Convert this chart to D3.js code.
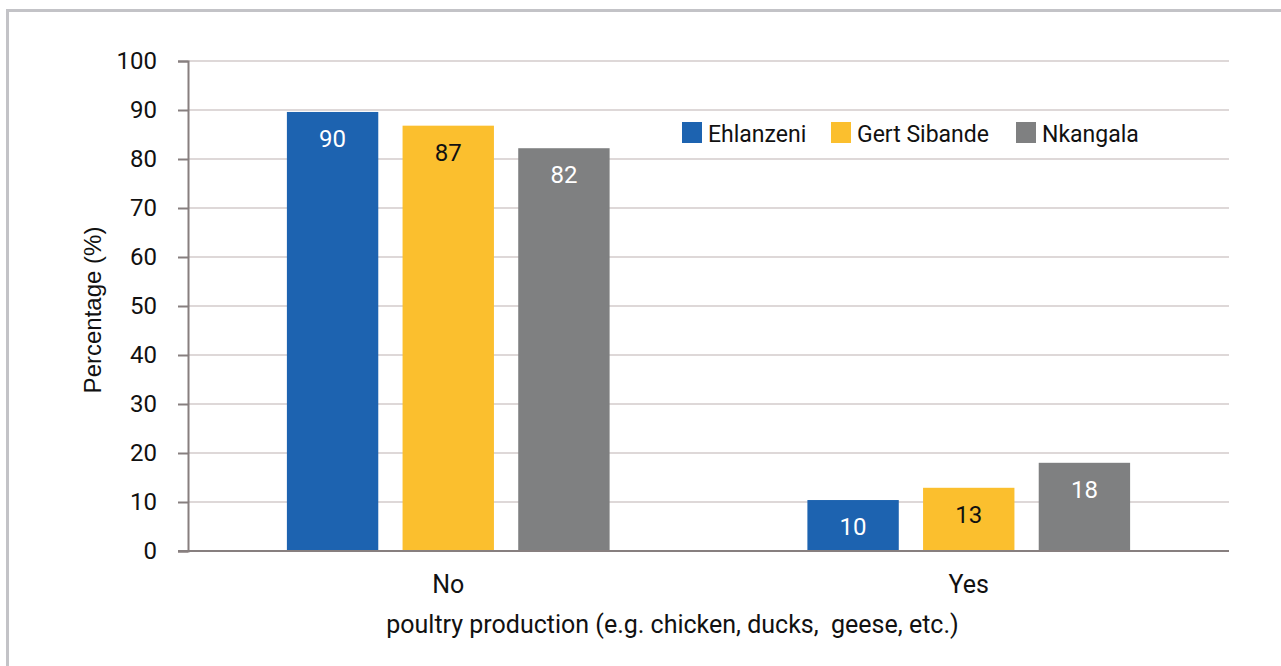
<!DOCTYPE html>
<html>
<head>
<meta charset="utf-8">
<script src="https://cdn.jsdelivr.net/npm/d3@7"></script>
<style>
  html, body { margin: 0; padding: 0; background: #fff; }
  svg { display: block; font-family: Roboto, "Noto Sans", sans-serif; }
</style>
</head>
<body>
<div id="chart"></div>
<script>
var categories = ["No", "Yes"];
var seriesNames = ["Ehlanzeni", "Gert Sibande", "Nkangala"];
var ehlanzeni = [89.6, 10.4];
var gertSibande = [86.8, 12.9];
var nkangala = [82.2, 18.0];
var yTicks = [0, 10, 20, 30, 40, 50, 60, 70, 80, 90, 100];
var colors = ["#1d63b0", "#fbbf2e", "#7f8081"];
var labelColors = ["#ffffff", "#111111", "#ffffff"];

var seriesValues = [ehlanzeni, gertSibande, nkangala];

var W = 1281, H = 666;
var margin = { top: 61, right: 52, bottom: 115, left: 188 };
var width = W - margin.left - margin.right;
var height = H - margin.top - margin.bottom;

var root = d3.select("#chart").append("svg")
  .attr("width", W)
  .attr("height", H);

// outer frame (left and top only are visible)
root.append("path")
  .attr("d", "M7.5," + H + "V10.5H" + W)
  .attr("fill", "none")
  .attr("stroke", "#c3c3c7")
  .attr("stroke-width", 3);

var svg = root.append("g")
  .attr("transform", "translate(" + margin.left + "," + margin.top + ")");

var x0 = d3.scaleBand().domain(categories).range([0, width]).paddingInner(0).paddingOuter(0);
var groupWidth = x0.bandwidth() * 0.62;
var x1 = d3.scaleBand().domain(seriesNames).range([0, groupWidth]).paddingInner(0.21).paddingOuter(0);
var y = d3.scaleLinear().domain([0, 100]).range([height, 0]);

// gridlines
svg.append("g")
  .selectAll("line")
  .data(yTicks.filter(function (d) { return d > 0; }))
  .enter().append("line")
  .attr("x1", 0)
  .attr("x2", width)
  .attr("y1", function (d) { return y(d); })
  .attr("y2", function (d) { return y(d); })
  .attr("stroke", "#d3cbcb")
  .attr("stroke-width", 1.5);

// bars
var groups = svg.selectAll(".grp")
  .data(categories)
  .enter().append("g")
  .attr("transform", function (c) {
    return "translate(" + (x0(c) + (x0.bandwidth() - groupWidth) / 2) + ",0)";
  });

groups.each(function (c, ci) {
  var g = d3.select(this);
  seriesNames.forEach(function (s, si) {
    var v = seriesValues[si][ci];
    g.append("rect")
      .attr("x", x1(s))
      .attr("y", y(v))
      .attr("width", x1.bandwidth())
      .attr("height", height - y(v))
      .attr("fill", colors[si]);
    g.append("text")
      .attr("x", x1(s) + x1.bandwidth() / 2)
      .attr("y", y(v) + 35)
      .attr("text-anchor", "middle")
      .attr("fill", labelColors[si])
      .style("font-size", "24px")
      .text(d3.format(".0f")(v));
  });
});

// y axis
var yAxis = svg.append("g")
  .call(d3.axisLeft(y).tickValues(yTicks).tickSize(10).tickPadding(21));
yAxis.select(".domain").attr("stroke", "#877f7f").attr("stroke-width", 2);
yAxis.selectAll(".tick line").attr("stroke", "#877f7f").attr("stroke-width", 2);
yAxis.selectAll(".tick text")
  .attr("fill", "#111")
  .style("font-size", "24px")
  .style("font-family", "Roboto, sans-serif");

// x axis
var xAxis = svg.append("g")
  .attr("transform", "translate(0," + height + ")")
  .call(d3.axisBottom(x0).tickSize(0).tickPadding(24));
xAxis.select(".domain").remove();
xAxis.selectAll(".tick text")
  .attr("fill", "#111")
  .style("font-size", "25px")
  .style("font-family", "Roboto, sans-serif");
svg.append("line")
  .attr("x1", -10)
  .attr("x2", width)
  .attr("y1", height)
  .attr("y2", height)
  .attr("stroke", "#877f7f")
  .attr("stroke-width", 2);

// axis titles
svg.append("text")
  .attr("x", width / 2 - 36)
  .attr("y", height + 82)
  .attr("text-anchor", "middle")
  .attr("fill", "#111")
  .style("font-size", "25px")
  .style("white-space", "pre")
  .text("poultry production (e.g. chicken, ducks,  geese, etc.)");

svg.append("text")
  .attr("transform", "rotate(-90)")
  .attr("x", -height / 2 - 4)
  .attr("y", -95)
  .attr("dy", "0.35em")
  .attr("text-anchor", "middle")
  .attr("fill", "#111")
  .style("font-family", "'Liberation Sans', Arial, sans-serif")
  .style("font-size", "24px")
  .text("Percentage (%)");

// legend
var legendX = [682 - margin.left, 831 - margin.left, 1016 - margin.left];
var legend = svg.selectAll(".leg")
  .data(seriesNames)
  .enter().append("g")
  .attr("transform", function (d, i) { return "translate(" + legendX[i] + "," + (122 - margin.top) + ")"; });
legend.append("rect")
  .attr("width", 20)
  .attr("height", 21)
  .attr("fill", function (d, i) { return colors[i]; });
legend.append("text")
  .attr("x", 26)
  .attr("y", 20)
  .attr("fill", "#111")
  .style("font-size", "23px")
  .text(function (d) { return d; });
</script>
</body>
</html>
